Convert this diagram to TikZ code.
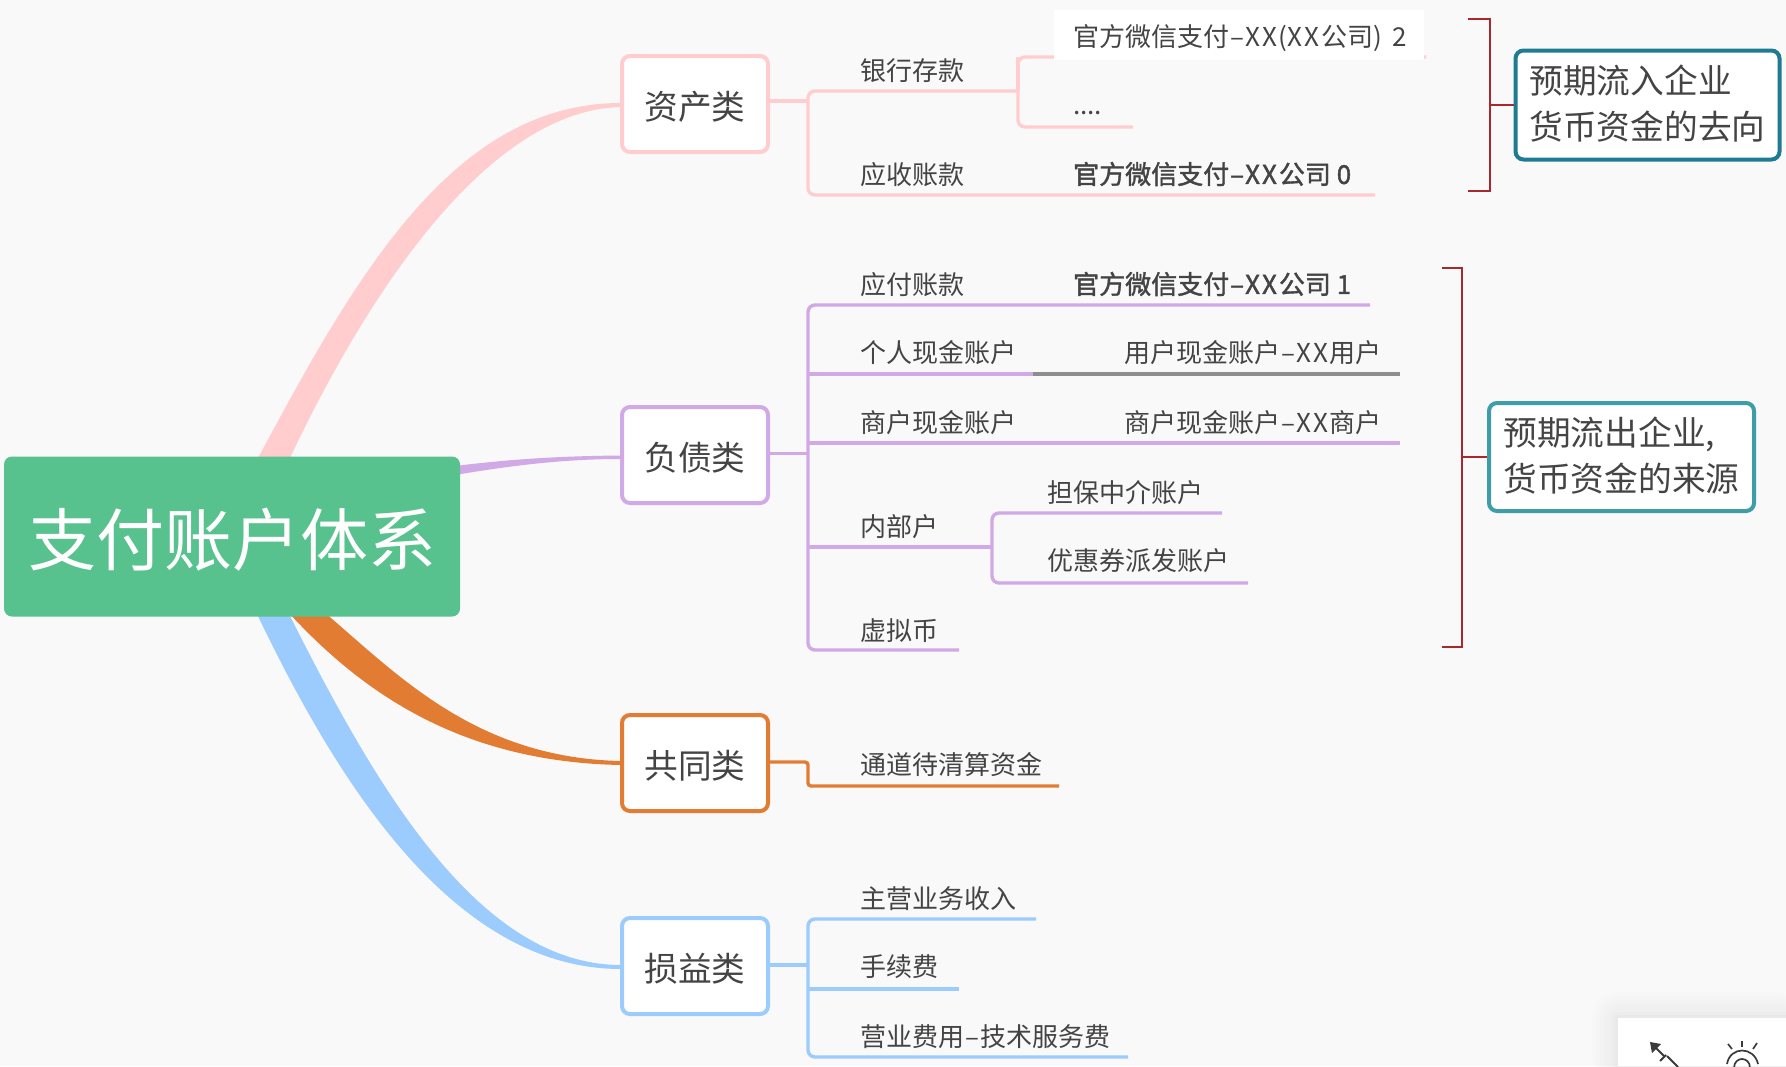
\documentclass[tikz,border=0pt]{standalone}
\usepackage{fontspec}
\setmainfont{Noto Sans CJK SC}
\newfontfamily\medf[FakeBold=1.5]{Noto Sans CJK SC}
\usetikzlibrary{calc}
\definecolor{bgc}{HTML}{F9F9F9}
\definecolor{txt}{HTML}{444444}
\definecolor{cpink}{HTML}{FFCDCD}
\definecolor{cpurple}{HTML}{D0A9E6}
\definecolor{corange}{HTML}{E37C33}
\definecolor{cblue}{HTML}{9CCBFD}
\definecolor{cgreen}{HTML}{58C28E}
\definecolor{cteal}{HTML}{1F7B92}
\definecolor{cteal2}{HTML}{3F9DA8}
\definecolor{cred}{HTML}{A8282E}
\definecolor{cgray}{HTML}{8E8E8E}
\definecolor{cicon}{HTML}{3A3A3A}
\newcommand{\dsh}{\kern1pt–\kern1pt}
\newcommand{\xx}{X\kern2pt X\kern2pt}
\newcommand{\catup}{\rule{0pt}{34.5pt}}
\tikzset{
  x=1pt,y=-1pt,
  root/.style={fill=cgreen,rounded corners=8pt,text=white,inner sep=0pt,minimum width=456pt,minimum height=160pt,font=\fontsize{68}{70}\selectfont},
  cat/.style={draw=#1,fill=white,line width=4pt,rounded corners=8pt,text=txt,inner sep=0pt,minimum width=146pt,minimum height=96pt,font=\fontsize{33.7}{36}\selectfont},
  note/.style={draw=#1,fill=white,line width=4pt,rounded corners=8pt,text=txt,inner sep=0pt,anchor=north west,text width=236pt,align=left,font=\fontsize{33.7}{45.5}\selectfont},
  lab/.style={anchor=west,inner sep=0pt,text=txt,font=\fontsize{26}{28}\selectfont},
  strong/.style={lab,font=\fontsize{26}{28}\medf},
  wire/.style={draw=#1,line width=3.4pt,rounded corners=7pt},
  straightwire/.style={draw=#1,line width=3.4pt},
  brk/.style={draw=cred,line width=2pt},
  icon/.style={draw=cicon,line width=1.7pt},
}
\begin{document}
\begin{tikzpicture}
\useasboundingbox (0,0) rectangle (1786,1066);
\fill[bgc] (0,0) rectangle (1786,1066);

% tapered main branches
\fill[cpink] (257,460) .. controls (354,279) and (452,103) .. (621,103) -- (621,107) .. controls (490,110) and (370,288) .. (289,460) -- cycle;
\fill[cpurple] (455,466) .. controls (520,458) and (570,456) .. (621,455.5) -- (621,459) .. controls (570,459) and (520,464) .. (455,475) -- cycle;
\fill[corange] (288,612) .. controls (358,688) and (456,762) .. (621,765) -- (621,761) .. controls (476,758) and (398,675) .. (324,612) -- cycle;
\fill[cblue] (256,612) .. controls (335,777) and (451,969) .. (621,969) -- (621,965) .. controls (475,965) and (371,777) .. (288,612) -- cycle;

% nodes
\node[root] (rootn) at (232,536.5) {\rule{0pt}{63pt}支付账户体系};
\node[cat=cpink] (assets) at (695,104) {\catup 资产类};
\node[cat=cpurple] (liab) at (695,455) {\catup 负债类};
\node[cat=corange] (common) at (695,763) {\catup 共同类};
\node[cat=cblue] (pl) at (695,966) {\catup 损益类};

\node[lab] (bank) at (860,70.5) {银行存款};
\node[lab] (dots) at (1073,113) {....};
\node[lab] (recv) at (860,174.5) {应收账款};
\node[strong] (wx0) at (1073,174) {官方微信支付\dsh\xx 公司 0};
\node[lab] (pay) at (860,284.5) {应付账款};
\node[strong] (wx1) at (1073,284) {官方微信支付\dsh\xx 公司 1};
\node[lab] (pers) at (860,353) {个人现金账户};
\node[lab] (persx) at (1124,353) {用户现金账户\dsh\xx 用户};
\node[lab] (merc) at (860,423) {商户现金账户};
\node[lab] (mercx) at (1124,423) {商户现金账户\dsh\xx 商户};
\node[lab] (inner) at (860,527) {内部户};
\node[lab] (guar) at (1047,492.5) {担保中介账户};
\node[lab] (coup) at (1047,560.5) {优惠券派发账户};
\node[lab] (virt) at (860,630.5) {虚拟币};
\node[lab] (chan) at (860,764.5) {通道待清算资金};
\node[lab] (rev) at (860,898.5) {主营业务收入};
\node[lab] (fee) at (860,967) {手续费};
\node[lab] (opex) at (860,1037) {营业费用\dsh 技术服务费};

\node[note=cteal,minimum width=264pt,minimum height=109pt] (noteA) at (1513.5,48.5) {预期流入企业\\货币资金的去向\rule[-6pt]{0pt}{0pt}};
\node[note=cteal2,minimum width=265pt,minimum height=108pt] (noteB) at (1487,401) {预期流出企业,\\货币资金的来源\rule[-6pt]{0pt}{0pt}};

% junction and end coordinates
\coordinate (pV) at (808,101);
\coordinate (pTop) at (808,91);
\coordinate (pBot) at (808,195);
\coordinate (pFork) at (1018,91);
\coordinate (pFa) at (1018,57);
\coordinate (pFb) at (1018,127);
\coordinate (pEa) at (1426,57);
\coordinate (pEb) at (1133,127);
\coordinate (pEc) at (1375,195);
\coordinate (uV) at (808,453.5);
\coordinate (uTop) at (808,305);
\coordinate (uEa) at (1370,305);
\coordinate (uBot) at (808,650);
\coordinate (uEb) at (959,650);
\coordinate (uPa) at (808,374);
\coordinate (uPb) at (1033,374);
\coordinate (uPc) at (1400,374);
\coordinate (uMa) at (808,443);
\coordinate (uMb) at (1400,443);
\coordinate (uIa) at (808,547);
\coordinate (uIb) at (992,547);
\coordinate (uGa) at (992,513);
\coordinate (uGb) at (1222,513);
\coordinate (uCa) at (992,583);
\coordinate (uCb) at (1248,583);
\coordinate (oV) at (808,762);
\coordinate (oD) at (808,786);
\coordinate (oE) at (1059,786);
\coordinate (bV) at (808,965);
\coordinate (bTop) at (808,919);
\coordinate (bEa) at (1036,919);
\coordinate (bBot) at (808,1057);
\coordinate (bEb) at (1128,1057);
\coordinate (bMa) at (808,989);
\coordinate (bMb) at (959,989);

% pink wires
\draw[straightwire=cpink] (pV -| assets.east) -- (pV);
\draw[wire=cpink] (pFork) -- (pTop) -- (pBot) -- (pEc);
\draw[wire=cpink] (pEa) -- (pFa) -- (pFb) -- (pEb);
\draw[straightwire=cpink] (pFa) -- (pFork);
% white patch on the wire, with the leaf text on it
\fill[white] (1054,10) rectangle (1424,60);
\node[lab] (wx2) at (1073,38) {官方微信支付\dsh\xx(\xx 公司)\kern1.5pt\ \kern3pt 2};

% purple wires
\draw[straightwire=cpurple] (uV -| liab.east) -- (uV);
\draw[wire=cpurple] (uEa) -- (uTop) -- (uBot) -- (uEb);
\draw[straightwire=cpurple] (uPa) -- (uPb);
\draw[straightwire=cgray] (uPb) -- (uPc);
\draw[straightwire=cpurple] (uMa) -- (uMb);
\draw[straightwire=cpurple] (uIa) -- (uIb);
\draw[wire=cpurple] (uGb) -- (uGa) -- (uCa) -- (uCb);

% orange wires
\draw[wire=corange,rounded corners=3pt] (oV -| common.east) -- (oV) -- (oD) -- (oE);

% blue wires
\draw[straightwire=cblue] (bV -| pl.east) -- (bV);
\draw[wire=cblue] (bEa) -- (bTop) -- (bBot) -- (bEb);
\draw[straightwire=cblue] (bMa) -- (bMb);

% red brackets
\coordinate (aT) at (1468,19);
\coordinate (aTc) at (1489.5,19);
\coordinate (aM) at (1489.5,104.5);
\coordinate (aBc) at (1489.5,191);
\coordinate (aB) at (1468,191);
\coordinate (cT) at (1442,268);
\coordinate (cTc) at (1462,268);
\coordinate (cM) at (1462,457);
\coordinate (cBc) at (1462,647);
\coordinate (cB) at (1442,647);
\draw[brk] (aT) -- (aTc) -- (aBc) -- (aB);
\draw[brk] (aM) -- (aM -| noteA.west);
\draw[brk] (cT) -- (cTc) -- (cBc) -- (cB);
\draw[brk] (cM) -- (cM -| noteB.west);

% bottom right panel
\foreach \d/\o in {26/.006,22/.006,18/.007,14/.008,10/.009,6/.01,3/.012}
  \fill[black,opacity=\o,rounded corners=\d pt] (1618-\d,1018-\d) rectangle (1800,1080);
\fill[white] (1618,1018) rectangle (1786,1066);
% resize icon
\fill[cicon] (1650,1042) -- (1661,1044) -- (1652,1053) -- cycle;
\draw[icon,line width=2pt] (1655,1047) -- (1664,1056);
\draw[icon,line width=2pt] (1660,1061) -- (1666,1055);
\draw[icon,line width=2pt] (1667,1056) -- (1678,1067);
% eye icon
\draw[icon] (1742,1041) -- (1742,1047);
\draw[icon] (1728,1044) -- (1732,1049);
\draw[icon] (1757,1043) -- (1753,1049);
\draw[icon] (1727,1064) .. controls (1730,1046) and (1754,1046) .. (1758,1064);
\draw[icon] (1734,1068) .. controls (1734,1056) and (1750,1056) .. (1750,1068);
\end{tikzpicture}
\end{document}
